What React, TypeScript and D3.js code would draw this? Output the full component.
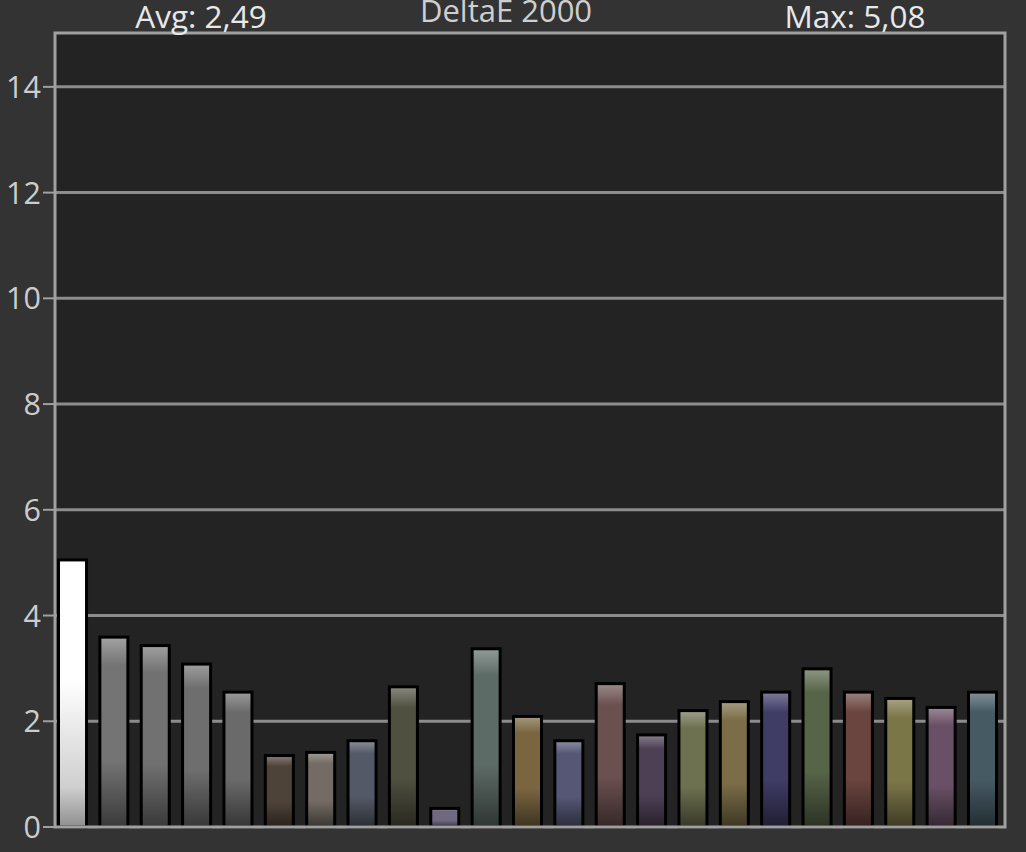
import React from "react";
import * as d3 from "d3";

const patches = ["p1","p2","p3","p4","p5","p6","p7","p8","p9","p10","p11","p12","p13","p14","p15","p16","p17","p18","p19","p20","p21","p22","p23"];
const deltaE = [5.08,3.62,3.46,3.11,2.58,1.38,1.44,1.66,2.68,0.38,3.40,2.12,1.66,2.74,1.77,2.23,2.40,2.58,3.02,2.58,2.46,2.29,2.58];
const baseColors = ["#ffffff","#747474","#717171","#6e6e6e","#6a6a6a","#4e4338","#746c64","#535966","#4f503f","#6e6880","#5d6b66","#7a6540","#555775","#6b5050","#4d4055","#6e7150","#7b6d48","#3f3c66","#566448","#6a443e","#7b7648","#6a5066","#465a64"];
const yTicks = [0,2,4,6,8,10,12,14];
const title = "DeltaE 2000";
const avgLabel = "Avg: 2,49";
const maxLabel = "Max: 5,08";

const W = 1026, H = 852;
const L = 55, R = 1005, T = 34, B = 827;
const FONT = "'Open Sans', 'Noto Sans', sans-serif";

export default function App() {
  const y = d3.scaleLinear().domain([0, 15]).range([B, T]);
  const x = d3.scaleBand<string>().domain(patches).range([57, 998]).paddingInner(0.25).paddingOuter(0);
  const bw = x.bandwidth();

  const stops = (c: string, i: number) => {
    if (i === 0) {
      return [
        { o: 0, c: "#ffffff" },
        { o: 0.45, c: "#ffffff" },
        { o: 0.85, c: "#cfcfcf" },
        { o: 1, c: "#8f8f8f" },
      ];
    }
    const light = d3.interpolateRgb(c, "#ffffff")(0.33);
    const dark = d3.interpolateRgb(c, "#000000")(0.5);
    return [
      { o: 0, c: light },
      { o: 0.15, c: c },
      { o: 0.65, c: c },
      { o: 1, c: dark },
    ];
  };

  return (
    <svg width={W} height={H} style={{ position: "absolute", left: 0, top: 0, display: "block" }}>
      <defs>
        {patches.map((p, i) => (
          <linearGradient key={p} id={`g-${p}`} x1="0" y1="0" x2="0" y2="1">
            {stops(baseColors[i], i).map((s, k) => (
              <stop key={k} offset={s.o} stopColor={s.c} />
            ))}
          </linearGradient>
        ))}
      </defs>
      <rect x={0} y={0} width={W} height={H} fill="#333333" />
      <rect x={L} y={T} width={R - L} height={B - T} fill="#232323" />
      {yTicks.filter(t => t > 0).map(t => (
        <line key={t} x1={L} x2={R} y1={y(t)} y2={y(t)} stroke="#8c8c8c" strokeWidth={3} />
      ))}
      {patches.map((p, i) => {
        const v = deltaE[i];
        const x0 = x(p)!;
        return (
          <rect
            key={p}
            x={x0 + 1.5}
            y={y(v) + 1.5}
            width={bw - 3}
            height={y(0) - y(v) - 1.5}
            fill={`url(#g-${p})`}
            stroke="#000"
            strokeWidth={3}
          />
        );
      })}
      <rect x={L} y={T - 1} width={R - L} height={B - T + 1} fill="none" stroke="#a0a0a0" strokeWidth={3} />
      {yTicks.map(t => (
        <g key={t}>
          <line x1={43} x2={L} y1={y(t)} y2={y(t)} stroke="#a0a0a0" strokeWidth={2} />
          <text x={41} y={y(t)} dy="0.36em" textAnchor="end" fill="#cccccc" fontSize={30.5} fontFamily={FONT}>
            {t}
          </text>
        </g>
      ))}
      <text x={201} y={28} textAnchor="middle" fill="#e8e8e8" fontSize={31.5} fontFamily={FONT}>{avgLabel}</text>
      <text x={506} y={22} textAnchor="middle" fill="#cfcfcf" fontSize={31} fontFamily={FONT}>{title}</text>
      <text x={855} y={28} textAnchor="middle" fill="#e8e8e8" fontSize={31.5} fontFamily={FONT}>{maxLabel}</text>
    </svg>
  );
}
